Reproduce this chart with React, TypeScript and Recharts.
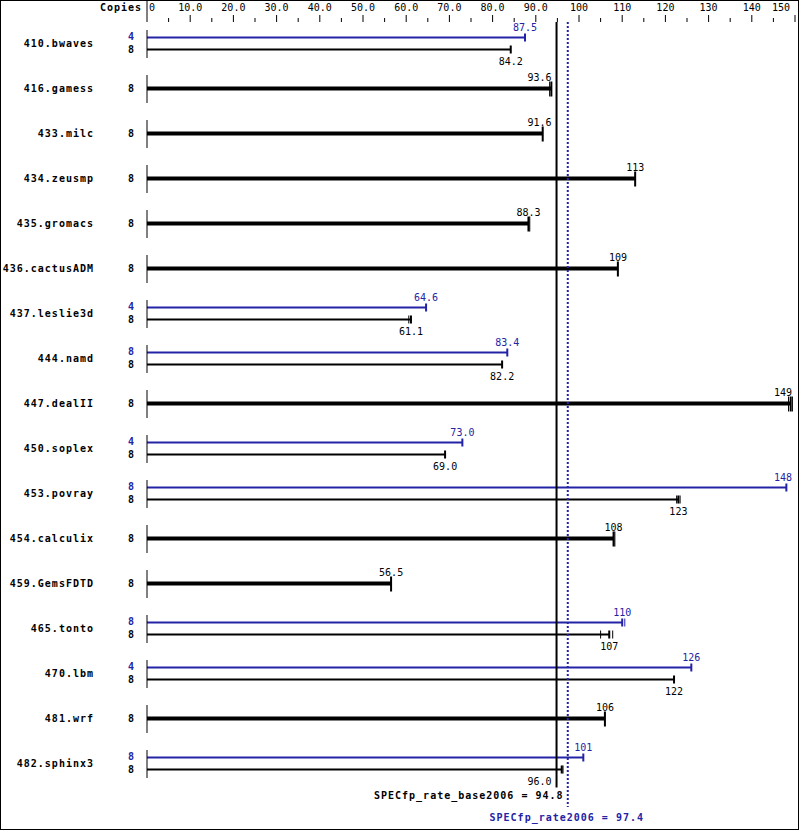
import { ComposedChart, Bar, XAxis, YAxis, ReferenceLine } from "recharts";

const benchmarks = [
  "410.bwaves", "416.gamess", "433.milc", "434.zeusmp", "435.gromacs", "436.cactusADM",
  "437.leslie3d", "444.namd", "447.dealII", "450.soplex", "453.povray", "454.calculix",
  "459.GemsFDTD", "465.tonto", "470.lbm", "481.wrf", "482.sphinx3",
];
const baseCopies = [8, 8, 8, 8, 8, 8, 8, 8, 8, 8, 8, 8, 8, 8, 8, 8, 8];
const peakCopies = [4, null, null, null, null, null, 4, 8, null, 4, 8, null, null, 8, 4, null, 8];
const baseRatios = [84.2, 93.6, 91.6, 113, 88.3, 109, 61.1, 82.2, 149, 69.0, 123, 108, 56.5, 107, 122, 106, 96.0];
const peakRatios = [87.5, null, null, null, null, null, 64.6, 83.4, null, 73.0, 148, null, null, 110, 126, null, 101];
// other run results that show up as small ticks next to the median
const baseOtherRuns = [[], [93.2], [], [], [88.6], [], [60.6], [], [148.5, 149.4], [], [122.6, 123.4], [108.3], [], [105.0, 107.8], [], [], [96.3]];
const peakOtherRuns = [[], [], [], [], [], [], [], [], [], [], [], [], [], [110.6], [], [], []];

const axisTicks = [0, 5, 10, 15, 20, 25, 30, 35, 40, 45, 50, 55, 60, 65, 70, 75, 80, 85, 90, 95, 100, 105, 110, 115, 120, 125, 130, 135, 140, 145, 150];

const BASE_SCORE = 94.8;
const PEAK_SCORE = 97.4;

const BLUE = "#2323a6";
const MONO = "'DejaVu Sans Mono', monospace";

const rows = benchmarks.map((name, i) => ({
  name,
  baseCopies: baseCopies[i],
  peakCopies: peakCopies[i],
  base: baseRatios[i],
  peak: peakRatios[i],
  baseRuns: baseOtherRuns[i],
  peakRuns: peakOtherRuns[i],
}));

const fmt = (v: number) => (v >= 100 ? v.toFixed(0) : v.toFixed(1));

// where to put a value label so it does not sit on top of a score line
const labelPos = (end: number, text: string, refX: number) => {
  const w = text.length * 6;
  let left = end - w / 2;
  if (left < refX + 4 && left + w > refX - 4) {
    left = end < refX + w / 2 ? refX - 5 - w : refX + 5;
  }
  if (left + w > 792) left = 792 - w;
  return left;
};

const RunLine = (props: any) => {
  const { x, y, width, value, runs, color, cy, thick, refX, labelAbove, labelDy } = props;
  const ppu = width / value;
  const end = x + width;
  const half = thick ? 2 : 1;
  const capTop = thick ? cy - 7 : cy - 4;
  const capBottom = thick ? cy + 8 : cy + 4;
  const text = fmt(value);
  return (
    <g>
      <rect x={x} y={cy - half} width={width} height={half * 2} fill={color} />
      <rect x={end - 1} y={capTop} width={2} height={capBottom - capTop} fill={color} />
      {runs.map((r: number, i: number) => (
        <rect key={i} x={x + r * ppu - 0.5} y={capTop} width={1} height={capBottom - capTop} fill={color} />
      ))}
      <text
        x={labelPos(end, text, refX(ppu, x))}
        y={cy + (labelAbove ? -labelDy : labelDy)}
        fill={color}
        fontFamily={MONO}
        fontSize={10}
        dominantBaseline="central"
      >
        {text}
      </text>
    </g>
  );
};

const PeakShape = (props: any) => {
  const { x, y, width, height, payload } = props;
  if (payload.peak == null || !width) return <g />;
  return (
    <RunLine
      x={x}
      y={y}
      width={width}
      value={payload.peak}
      runs={payload.peakRuns}
      color={BLUE}
      cy={y + height - 6}
      thick={false}
      refX={(ppu: number, x0: number) => x0 + PEAK_SCORE * ppu}
      labelAbove
      labelDy={10}
    />
  );
};

const BaseShape = (props: any) => {
  const { x, y, width, payload } = props;
  if (!width) return <g />;
  const single = payload.peak == null;
  return (
    <RunLine
      x={x}
      y={y}
      width={width}
      value={payload.base}
      runs={payload.baseRuns}
      color="#000"
      cy={single ? y : y + 6}
      thick={single}
      refX={(ppu: number, x0: number) => x0 + BASE_SCORE * ppu}
      labelAbove={single}
      labelDy={single ? 11 : 12}
    />
  );
};

const TopTick = (props: any) => {
  const { x, payload } = props;
  const v = payload.value as number;
  const major = v % 10 === 0;
  const label = v >= 100 ? String(v) : v === 0 ? "0" : v.toFixed(1);
  const anchor = v === 0 ? "start" : v === 150 ? "end" : "middle";
  const lx = v === 0 ? x + 2 : v === 150 ? x - 5 : x;
  return (
    <g>
      {v === 0 && <line x1={x} x2={x} y1={0} y2={22} stroke="#000" />}
      {v !== 0 && <line x1={x} x2={x} y1={major ? 15 : 18} y2={22} stroke="#000" />}
      {major && (
        <text x={lx} y={7} textAnchor={anchor} dominantBaseline="central" fontFamily={MONO} fontSize={10} fill="#000">
          {label}
        </text>
      )}
      {v === 0 && (
        <text x={142} y={7} textAnchor="end" dominantBaseline="central" fontFamily={MONO} fontSize={10} fontWeight="bold" letterSpacing={1} fill="#000">
          Copies
        </text>
      )}
    </g>
  );
};

const NameTick = (props: any) => {
  const { y, index } = props;
  const row = rows[index];
  if (!row) return <g />;
  const dual = row.peakCopies != null;
  const bold = { fontFamily: MONO, fontSize: 10, fontWeight: "bold" as const, letterSpacing: 1 };
  return (
    <g>
      <text x={94} y={y} textAnchor="end" dominantBaseline="central" fill="#000" {...bold}>
        {row.name}
      </text>
      {dual ? (
        <>
          <text x={135} y={y - 7} textAnchor="end" dominantBaseline="central" fill={BLUE} {...bold}>
            {row.peakCopies}
          </text>
          <text x={135} y={y + 6} textAnchor="end" dominantBaseline="central" fill="#000" {...bold}>
            {row.baseCopies}
          </text>
        </>
      ) : (
        <text x={135} y={y} textAnchor="end" dominantBaseline="central" fill="#000" {...bold}>
          {row.baseCopies}
        </text>
      )}
      <line x1={147} x2={147} y1={y - 13} y2={y + 15} stroke="#000" />
    </g>
  );
};

const BaseRef = (props: any) => {
  const { x1, y1, y2 } = props;
  return (
    <g>
      <rect x={x1 - 1} y={y1 + 1.5} width={2} height={y2 - y1 + 0.5} fill="#000" />
      <text x={x1 + 7} y={795} textAnchor="end" dominantBaseline="central" fontFamily={MONO} fontSize={10} fontWeight="bold" letterSpacing={1} fill="#000">
        {`SPECfp_rate_base2006 = ${BASE_SCORE.toFixed(1)}`}
      </text>
    </g>
  );
};

const PeakRef = (props: any) => {
  const { x1, y1, y2 } = props;
  return (
    <g>
      <line x1={x1} x2={x1} y1={y1 + 1.5} y2={y2 + 21.5} stroke={BLUE} strokeWidth={2} strokeDasharray="2 2" />
      <text x={x1 - 1} y={817} textAnchor="middle" dominantBaseline="central" fontFamily={MONO} fontSize={10} fontWeight="bold" letterSpacing={1} fill={BLUE}>
        {`SPECfp_rate2006 = ${PEAK_SCORE.toFixed(1)}`}
      </text>
    </g>
  );
};

export default function App() {
  return (
    <div style={{ position: "relative", width: 799, height: 831, background: "#fff" }}>
      <style>{`body { margin: 0; }`}</style>
      <ComposedChart
        width={799}
        height={831}
        data={rows}
        layout="vertical"
        margin={{ top: 0, right: 4, bottom: 45.5, left: 0 }}
        barCategoryGap={0}
        barGap={0}
      >
        <XAxis
          type="number"
          orientation="top"
          domain={[0, 150]}
          ticks={axisTicks}
          interval={0}
          height={20.5}
          axisLine={false}
          tickLine={false}
          tick={<TopTick />}
        />
        <YAxis
          type="category"
          dataKey="name"
          width={147}
          interval={0}
          axisLine={false}
          tickLine={false}
          tick={<NameTick />}
        />
        <Bar dataKey="peak" shape={<PeakShape />} isAnimationActive={false} />
        <Bar dataKey="base" shape={<BaseShape />} isAnimationActive={false} />
        <ReferenceLine x={BASE_SCORE} shape={<BaseRef />} />
        <ReferenceLine x={PEAK_SCORE} shape={<PeakRef />} />
      </ComposedChart>
      <div
        style={{
          position: "absolute",
          left: 0,
          top: 0,
          width: 799,
          height: 830,
          border: "1px solid #000",
          boxSizing: "border-box",
          pointerEvents: "none",
        }}
      />
    </div>
  );
}
